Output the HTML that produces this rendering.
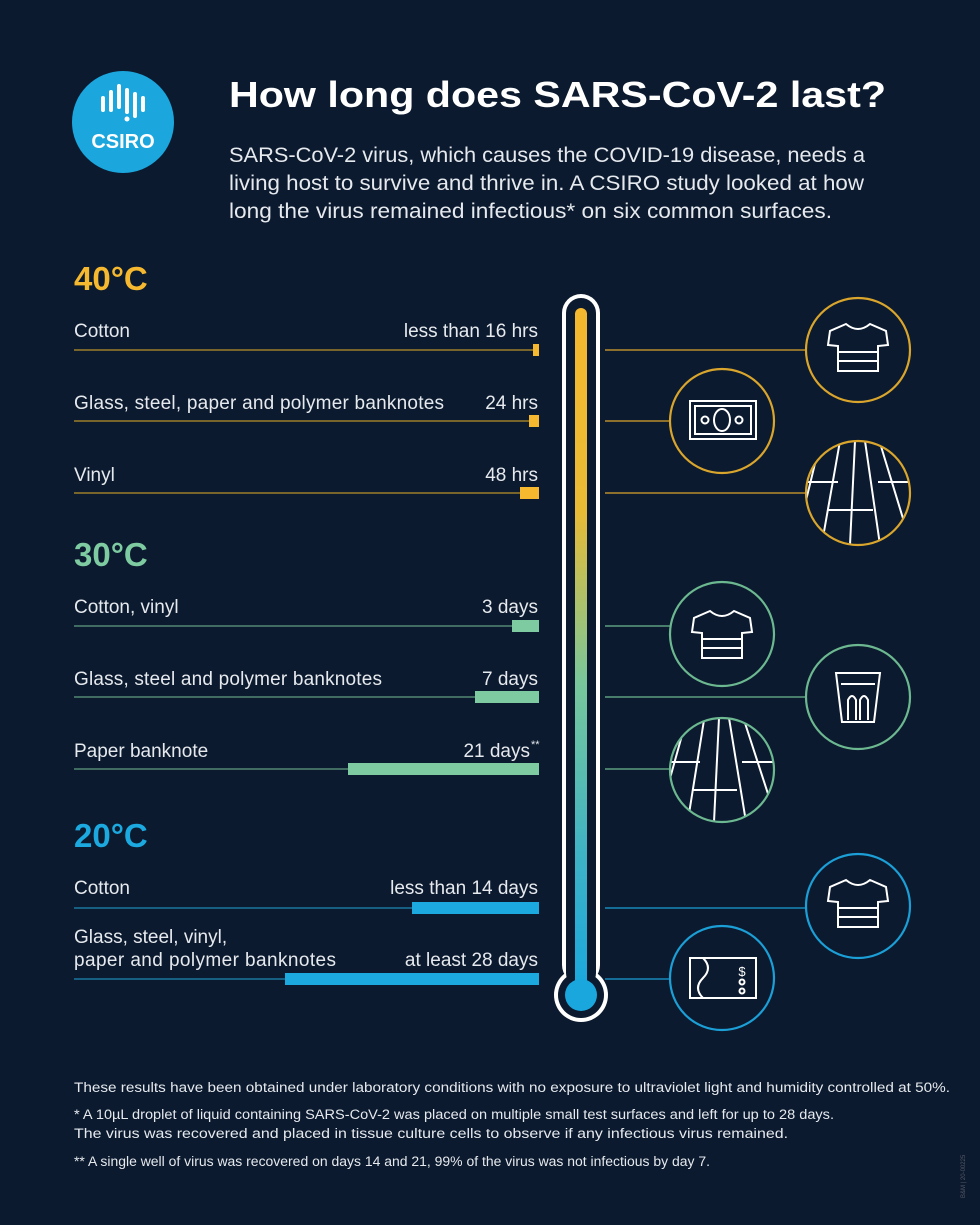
<!DOCTYPE html>
<html><head><meta charset="utf-8"><style>
body{margin:0;background:#0b1a2e;}
svg{display:block}
text{font-family:"Liberation Sans",sans-serif;}
</style></head><body>
<svg width="980" height="1225" viewBox="0 0 980 1225" xmlns="http://www.w3.org/2000/svg">
<defs>
<linearGradient id="g" x1="0" y1="0" x2="0" y2="1">
<stop offset="0" stop-color="#f5b82e"/><stop offset="0.3" stop-color="#e8bb35"/>
<stop offset="0.55" stop-color="#78c79a"/><stop offset="0.8" stop-color="#3fb3c4"/><stop offset="1" stop-color="#1aa7de"/>
</linearGradient>
<clipPath id="c1"><circle cx="858" cy="493" r="51"/></clipPath>
<clipPath id="c2"><circle cx="722" cy="770" r="51"/></clipPath>
</defs>
<rect width="980" height="1225" fill="#0b1a2e"/>
<circle cx="123" cy="122" r="51" fill="#1ba6dd"/>
<g stroke="#fff" stroke-width="4" stroke-linecap="round">
<line x1="103" y1="98" x2="103" y2="110"/><line x1="111" y1="92" x2="111" y2="110"/><line x1="119" y1="86" x2="119" y2="107"/>
<line x1="127" y1="90" x2="127" y2="112"/><line x1="135" y1="94" x2="135" y2="116"/><line x1="143" y1="98" x2="143" y2="110"/>
</g>
<circle cx="127" cy="119" r="2.5" fill="#fff"/>
<text x="123" y="148" fill="#fff" font-size="20" font-weight="bold" text-anchor="middle">CSIRO</text>
<text x="229" y="107" fill="#fff" font-size="36" font-weight="bold" textLength="657" lengthAdjust="spacingAndGlyphs">How long does SARS-CoV-2 last?</text>
<g fill="#e6e9ee" font-size="21">
<text x="229" y="162" textLength="636" lengthAdjust="spacingAndGlyphs">SARS-CoV-2 virus, which causes the COVID-19 disease, needs a</text>
<text x="229" y="190" textLength="635" lengthAdjust="spacingAndGlyphs">living host to survive and thrive in. A CSIRO study looked at how</text>
<text x="229" y="218" textLength="603" lengthAdjust="spacingAndGlyphs">long the virus remained infectious* on six common surfaces.</text>
</g>
<text x="74" y="290" fill="#f5b82e" font-size="33" font-weight="bold">40°C</text>
<text x="74" y="566" fill="#7ecba1" font-size="33" font-weight="bold">30°C</text>
<text x="74" y="847" fill="#1ba9e0" font-size="33" font-weight="bold">20°C</text>
<g font-size="19" fill="#e6e9ee">
<text x="74" y="337">Cotton</text><text x="538" y="337" text-anchor="end">less than 16 hrs</text>
<text x="74" y="409" textLength="370">Glass, steel, paper and polymer banknotes</text><text x="538" y="409" text-anchor="end">24 hrs</text>
<text x="74" y="481">Vinyl</text><text x="538" y="481" text-anchor="end">48 hrs</text>
<text x="74" y="613">Cotton, vinyl</text><text x="538" y="613" text-anchor="end">3 days</text>
<text x="74" y="685" textLength="308">Glass, steel and polymer banknotes</text><text x="538" y="685" text-anchor="end">7 days</text>
<text x="74" y="757">Paper banknote</text><text x="530" y="757" text-anchor="end">21 days</text><text x="531" y="748" font-size="11">**</text>
<text x="74" y="894">Cotton</text><text x="538" y="894" text-anchor="end">less than 14 days</text>
<text x="74" y="943">Glass, steel, vinyl,</text>
<text x="74" y="966" textLength="262">paper and polymer banknotes</text><text x="538" y="966" text-anchor="end">at least 28 days</text>
</g>
<g stroke-width="1.2">
<line x1="74" y1="350" x2="538" y2="350" stroke="#b8922c"/>
<line x1="74" y1="421" x2="538" y2="421" stroke="#b8922c"/>
<line x1="74" y1="493" x2="538" y2="493" stroke="#b8922c"/>
<line x1="74" y1="626" x2="538" y2="626" stroke="#5f9e80"/>
<line x1="74" y1="697" x2="538" y2="697" stroke="#5f9e80"/>
<line x1="74" y1="769" x2="538" y2="769" stroke="#5f9e80"/>
<line x1="74" y1="908" x2="538" y2="908" stroke="#1c86b5"/>
<line x1="74" y1="979" x2="538" y2="979" stroke="#1c86b5"/>
</g>
<rect x="533" y="344" width="6" height="12" fill="#f5b82e"/>
<rect x="529" y="415" width="10" height="12" fill="#f5b82e"/>
<rect x="520" y="487" width="19" height="12" fill="#f5b82e"/>
<rect x="512" y="620" width="27" height="12" fill="#7ecba1"/>
<rect x="475" y="691" width="64" height="12" fill="#7ecba1"/>
<rect x="348" y="763" width="191" height="12" fill="#7ecba1"/>
<rect x="412" y="902" width="127" height="12" fill="#1ba9e0"/>
<rect x="285" y="973" width="254" height="12" fill="#1ba9e0"/>
<rect x="562" y="294" width="38" height="690" rx="19" fill="#fff"/>
<circle cx="581" cy="995" r="27" fill="#fff"/>
<rect x="566" y="298" width="30" height="690" rx="15" fill="#0b1a2e"/>
<circle cx="581" cy="995" r="23" fill="#0b1a2e"/>
<rect x="575" y="308" width="12" height="680" rx="6" fill="url(#g)"/>
<circle cx="581" cy="995" r="16" fill="#1aa7de"/>
<g fill="none" stroke-width="2.2">
<g stroke="#d9a52c">
<line x1="605" y1="350" x2="806" y2="350" stroke-width="1.2"/><circle cx="858" cy="350" r="52"/>
<line x1="605" y1="421" x2="670" y2="421" stroke-width="1.2"/><circle cx="722" cy="421" r="52"/>
<line x1="605" y1="493" x2="806" y2="493" stroke-width="1.2"/><circle cx="858" cy="493" r="52"/>
</g>
<g stroke="#6cb890">
<line x1="605" y1="626" x2="670" y2="626" stroke-width="1.2"/><circle cx="722" cy="634" r="52"/>
<line x1="605" y1="697" x2="806" y2="697" stroke-width="1.2"/><circle cx="858" cy="697" r="52"/>
<line x1="605" y1="769" x2="670" y2="769" stroke-width="1.2"/><circle cx="722" cy="770" r="52"/>
</g>
<g stroke="#1b9fd6">
<line x1="605" y1="908" x2="806" y2="908" stroke-width="1.2"/><circle cx="858" cy="906" r="52"/>
<line x1="605" y1="979" x2="670" y2="979" stroke-width="1.2"/><circle cx="722" cy="978" r="52"/>
</g>
</g>
<g fill="none" stroke="#fff" stroke-width="2">
<path d="M846 324 L830 331 L828 345 L838 346 L838 371 L878 371 L878 346 L888 345 L886 331 L870 324 Q858 334 846 324 Z M838 352 H878 M838 361 H878"/>
<path d="M710 611 L694 618 L692 632 L702 633 L702 658 L742 658 L742 633 L752 632 L750 618 L734 611 Q722 621 710 611 Z M702 639 H742 M702 648 H742"/>
<path d="M846 880 L830 887 L828 901 L838 902 L838 927 L878 927 L878 902 L888 901 L886 887 L870 880 Q858 890 846 880 Z M838 908 H878 M838 917 H878"/>
<rect x="690" y="401" width="66" height="38"/><rect x="695" y="406" width="56" height="28"/>
<ellipse cx="722" cy="420" rx="8" ry="11"/><circle cx="705" cy="420" r="3.5"/><circle cx="739" cy="420" r="3.5"/>
<path clip-path="url(#c1)" d="M820 443 L800 525 M840 441 L822 543 M855 441 L850 545 M865 441 L880 545 M880 443 L905 525 M800 482 H838 M878 482 H915 M828 510 H873"/>
<path clip-path="url(#c2)" d="M684 728 L664 800 M704 720 L688 820 M719 718 L714 822 M729 718 L746 822 M744 720 L770 800 M664 762 H700 M742 762 H780 M692 790 H737"/>
<path d="M836 673 H880 L874 722 H842 Z M841 684 H875 M848 720 V700 Q852 692 856 700 V720 M860 720 V700 Q864 692 868 700 V720"/>
<rect x="690" y="958" width="66" height="40"/><path d="M703 958 Q713 968 703 978 Q693 988 703 998"/>
<text x="742" y="976" font-size="13" fill="#fff" stroke="none" text-anchor="middle">$</text>
<circle cx="742" cy="982" r="2.5"/><circle cx="742" cy="991" r="2.5"/>
</g>
<g fill="#e6e9ee" font-size="13.5">
<text x="74" y="1092" textLength="876" lengthAdjust="spacingAndGlyphs">These results have been obtained under laboratory conditions with no exposure to ultraviolet light and humidity controlled at 50%.</text>
<text x="74" y="1119" textLength="760" lengthAdjust="spacingAndGlyphs">* A 10µL droplet of liquid containing SARS-CoV-2 was placed on multiple small test surfaces and left for up to 28 days.</text>
<text x="74" y="1138" textLength="714" lengthAdjust="spacingAndGlyphs">The virus was recovered and placed in tissue culture cells to observe if any infectious virus remained.</text>
<text x="74" y="1166" textLength="636" lengthAdjust="spacingAndGlyphs">** A single well of virus was recovered on days 14 and 21, 99% of the virus was not infectious by day 7.</text>
</g>
<text x="0" y="0" fill="#556" font-size="6" transform="translate(965,1198) rotate(-90)">B&amp;M | 20-00225</text>
</svg>
</body></html>
